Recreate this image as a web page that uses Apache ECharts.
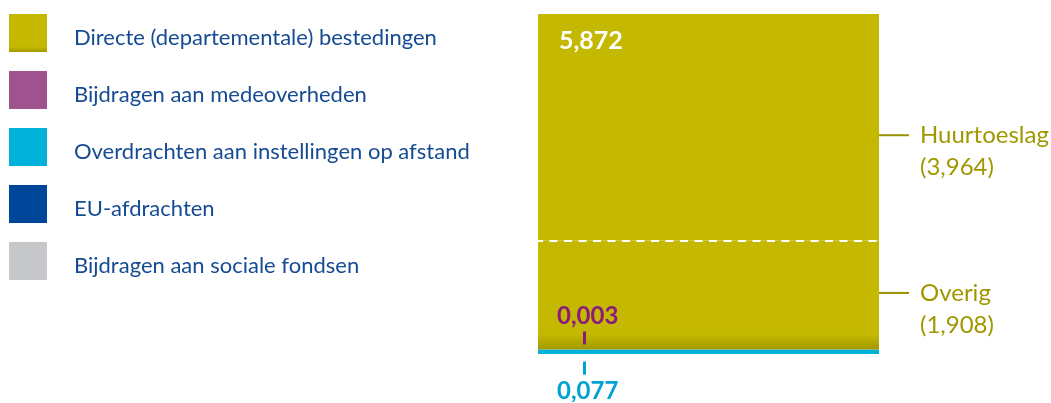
<!DOCTYPE html>
<html lang="nl">
<head>
  <meta charset="UTF-8">
  <title>Uitgaven naar type</title>
  <style>
    body { margin: 0; padding: 0; background: #fff; }
    #chart { width: 1051px; height: 403px; }
  </style>
</head>
<body>
  <div id="chart"></div>
  <script src="https://cdn.jsdelivr.net/npm/echarts@6/dist/echarts.min.js"></script>
  <script>
    // data (miljard euro)
    const categories = ['Uitgaven'];
    const legendNames = [
      'Directe (departementale) bestedingen',
      'Bijdragen aan medeoverheden',
      'Overdrachten aan instellingen op afstand',
      'EU-afdrachten',
      'Bijdragen aan sociale fondsen'
    ];
    const colors = ['#c4b900', '#a0548f', '#00b1da', '#00479a', '#c6c7c9'];
    const overdrachten = [0.077];
    const medeoverheden = [0.003];
    const overig = [1.908];
    const huurtoeslag = [3.964];
    const euAfdrachten = [0];
    const socialeFondsen = [0];

    const fmt = v => v.toFixed(3).replace('.', ',');
    const directe = overig[0] + huurtoeslag[0];
    const total = overdrachten[0] + medeoverheden[0] + directe + euAfdrachten[0] + socialeFondsen[0];
    const splitAt = overdrachten[0] + medeoverheden[0] + overig[0];

    const olive = '#c4b900';
    const oliveText = '#a09800';
    const font = 'Lato';

    const rightLabel = (name, value, dy) => ({
      show: true,
      position: 'right',
      distance: 0,
      offset: [0, dy],
      formatter: '{ln|}{g|}{nm|' + name + '}\n{sp|}{nm|(' + fmt(value) + ')}',
      rich: {
        ln: { width: 30, height: 2, backgroundColor: '#9a9100' },
        g: { width: 11 },
        sp: { width: 41 },
        nm: { fontFamily: font, fontSize: 24, lineHeight: 32, color: oliveText }
      }
    });

    const chart = echarts.init(document.getElementById('chart'));
    chart.setOption({
      animation: false,
      color: colors,
      legend: {
        data: legendNames,
        orient: 'vertical',
        left: 9,
        top: 14,
        padding: 0,
        icon: 'rect',
        itemWidth: 38,
        itemHeight: 38,
        itemGap: 19,
        selectedMode: false,
        formatter: name => '{s|}\n{n|' + name + '}',
        textStyle: {
          padding: [0, 0, 0, 22],
          rich: {
            s: { height: 10, lineHeight: 10 },
            n: { fontFamily: font, fontSize: 22, lineHeight: 22, color: '#154b93' }
          }
        }
      },
      grid: { left: 538, top: 14, width: 341, height: 340 },
      xAxis: { type: 'category', data: categories, show: false },
      yAxis: { type: 'value', min: 0, max: total, show: false },
      series: [
        {
          name: legendNames[2], type: 'bar', stack: 'a', barWidth: '100%',
          data: overdrachten, itemStyle: { color: colors[2] },
          label: {
            show: true, position: [19, 12], align: 'left', verticalAlign: 'top',
            formatter: p => '{sp|}{t|}\n{v|' + fmt(p.value) + '}',
            rich: {
              sp: { width: 26 },
              t: { width: 3, height: 13, backgroundColor: '#00a2d3' },
              v: { fontFamily: font, fontWeight: 'bold', fontSize: 24, lineHeight: 34, color: '#00a2d3' }
            }
          }
        },
        {
          name: legendNames[1], type: 'bar', stack: 'a', barWidth: '100%',
          data: medeoverheden, itemStyle: { color: colors[1] },
          label: {
            show: true, position: [19, -5], align: 'left', verticalAlign: 'bottom',
            formatter: p => '{v|' + fmt(p.value) + '}\n{sp|}{t|}',
            rich: {
              sp: { width: 26 },
              t: { width: 3, height: 13, backgroundColor: '#8b1a7c' },
              v: { fontFamily: font, fontWeight: 'bold', fontSize: 24, lineHeight: 30, color: '#8b1a7c' }
            }
          }
        },
        {
          name: legendNames[0], type: 'bar', stack: 'a', barWidth: '100%',
          data: overig,
          itemStyle: {
            color: new echarts.graphic.LinearGradient(0, 0, 0, 1, [
              { offset: 0, color: olive },
              { offset: 0.86, color: olive },
              { offset: 1, color: '#a39900' }
            ])
          },
          label: rightLabel('Overig', overig[0], 14),
          markLine: {
            silent: true,
            symbol: ['none', 'none'],
            label: { show: false },
            lineStyle: { color: '#fff', type: [8, 6.5], dashOffset: 3, width: 2 },
            data: [{ yAxis: splitAt }]
          }
        },
        {
          name: legendNames[0], type: 'bar', stack: 'a', barWidth: '100%',
          data: huurtoeslag, itemStyle: { color: olive },
          label: rightLabel('Huurtoeslag', huurtoeslag[0], 24)
        },
        {
          name: legendNames[3], type: 'bar', stack: 'a', barWidth: '100%',
          data: euAfdrachten, itemStyle: { color: colors[3] }
        },
        {
          name: legendNames[4], type: 'bar', stack: 'a', barWidth: '100%',
          data: socialeFondsen, itemStyle: { color: colors[4] }
        },
        {
          // transparante overlay voor het totaal van de directe bestedingen
          name: 'totaal', type: 'bar', barWidth: '100%', barGap: '-100%',
          silent: true,
          data: [total],
          itemStyle: { color: 'rgba(0,0,0,0)' },
          label: {
            show: true, position: [21, 14], align: 'left', verticalAlign: 'top',
            formatter: () => fmt(directe),
            fontFamily: font, fontWeight: 'bold', fontSize: 25, lineHeight: 25, color: '#fff'
          }
        }
      ]
    });
  </script>
</body>
</html>
